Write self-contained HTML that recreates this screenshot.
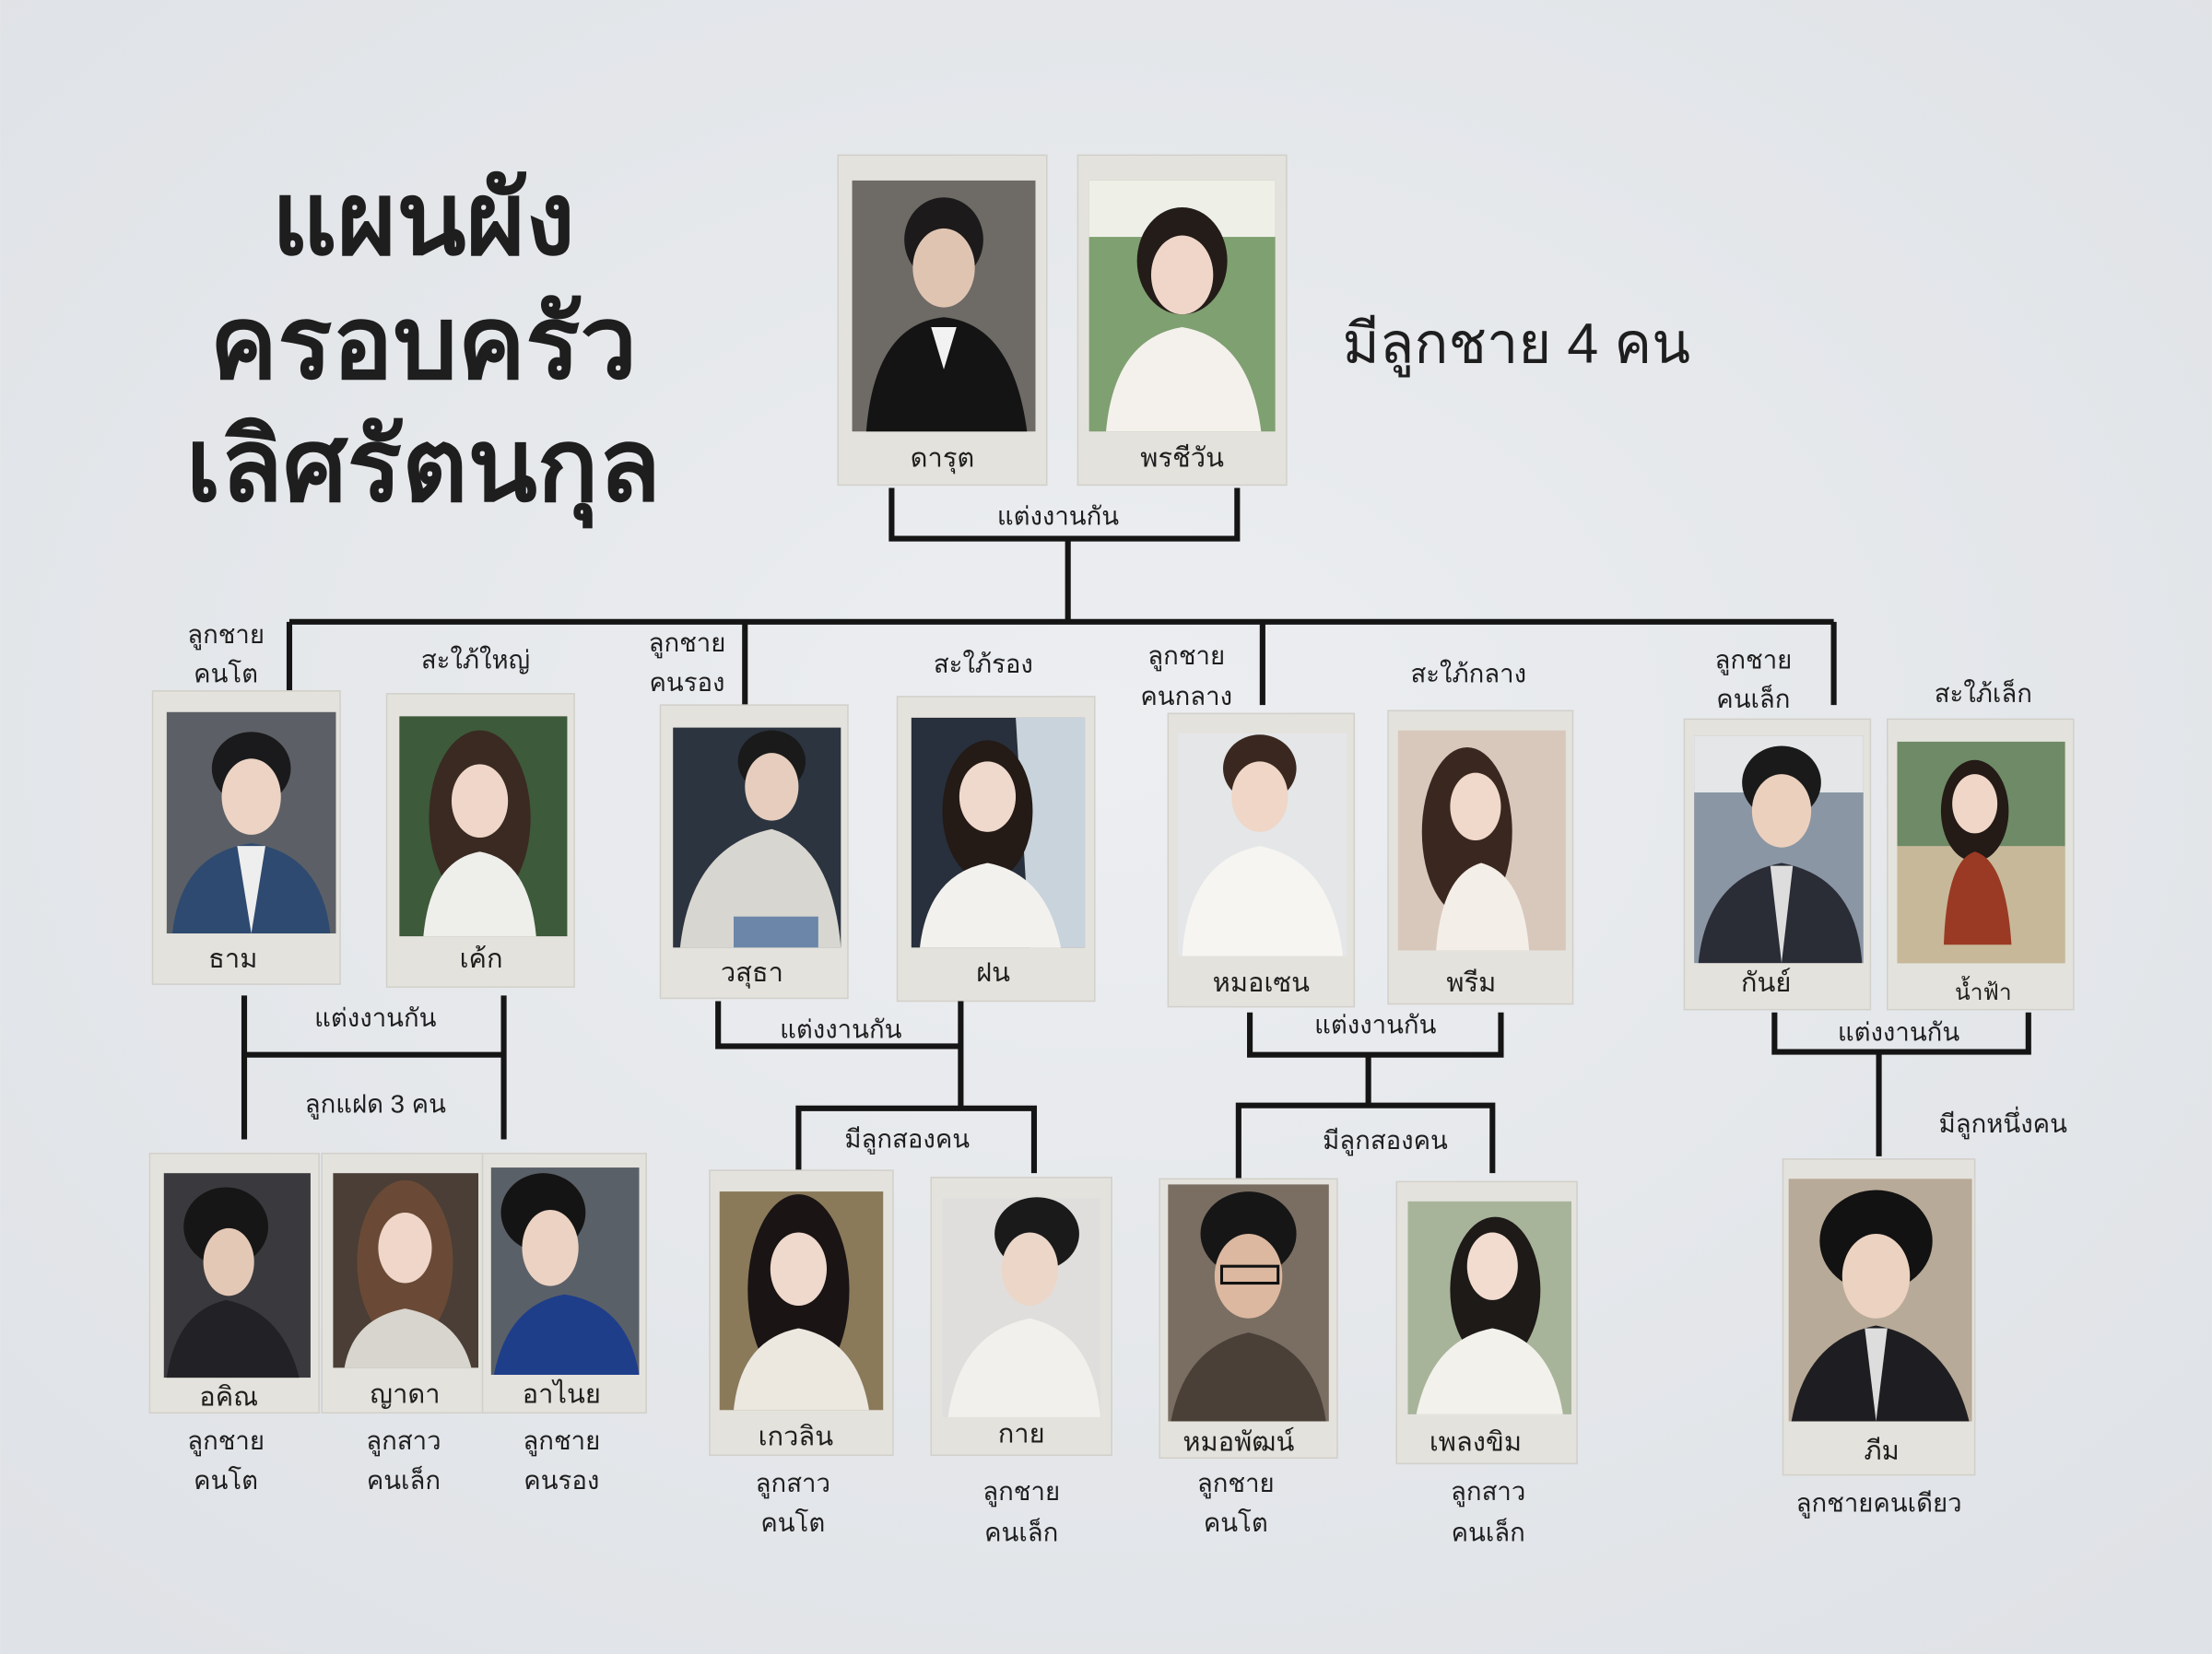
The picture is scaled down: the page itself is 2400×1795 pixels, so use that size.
<!DOCTYPE html>
<html><head><meta charset="utf-8"><style>
html,body{margin:0;padding:0;background:#e7eaed;}
svg{display:block}
text{font-family:"Liberation Sans","Noto Sans CJK SC",sans-serif;fill:#1e1e1e;text-anchor:middle}
.l{font-size:19px}
.s{font-size:18px}
.t{font-size:72px;font-weight:bold}
.fr{fill:#e4e2dc;stroke:#d2d0ca;stroke-width:1}
.ln{stroke:#151515;stroke-width:4;fill:none}
</style></head><body>
<svg width="2400" height="1795" viewBox="0 0 1568 1173" xmlns="http://www.w3.org/2000/svg">
<defs>
<radialGradient id="bg" cx="50%" cy="45%" r="70%"><stop offset="0" stop-color="#eceef1"/><stop offset="1" stop-color="#dfe2e6"/></radialGradient>
</defs>
<rect width="1568" height="1173" fill="url(#bg)"/>

<text class="t" x="300" y="180">แผนผัง</text>
<text class="t" x="300" y="268">ครอบครัว</text>
<text class="t" x="300" y="355">เลิศรัตนกุล</text>
<text x="1075" y="257" style="font-size:40px">มีลูกชาย 4 คน</text>

<!-- top frames -->
<rect class="fr" x="594" y="110" width="148" height="234"/>
<rect x="604" y="128" width="130" height="178" fill="#6e6a66"/>
<ellipse cx="669" cy="170" rx="28" ry="30" fill="#1c1a1a"/><ellipse cx="669" cy="190" rx="22" ry="28" fill="#e0c4b2"/>
<path d="M614 306 Q620 230 669 225 Q718 230 728 306Z" fill="#141414"/><path d="M660 232 L669 262 L678 232Z" fill="#f2f2f2"/>
<text class="l" x="668" y="331">ดารุต</text>
<rect class="fr" x="764" y="110" width="148" height="234"/>
<rect x="772" y="128" width="132" height="178" fill="#7fa070"/><rect x="772" y="128" width="132" height="40" fill="#eef0e8"/>
<ellipse cx="838" cy="185" rx="32" ry="38" fill="#231c18"/><ellipse cx="838" cy="195" rx="22" ry="28" fill="#efd6c8"/>
<path d="M784 306 Q790 240 838 232 Q886 240 894 306Z" fill="#f4f1ec"/>
<text class="l" x="838" y="331">พรชีวัน</text>

<path class="ln" d="M632 346 V382 H877 V346"/>
<text class="s" x="750" y="372">แต่งงานกัน</text>
<path class="ln" d="M757 382 V441"/>
<path class="ln" d="M205 441 H1300 M205 441 V490 M528 441 V500 M895 441 V500 M1300 441 V500"/>

<!-- upper labels -->
<g class="s">
<text class="s" x="160" y="456">ลูกชาย</text><text class="s" x="160" y="484">คนโต</text>
<text class="s" x="337" y="474">สะใภ้ใหญ่</text>
<text class="s" x="487" y="462">ลูกชาย</text><text class="s" x="487" y="490">คนรอง</text>
<text class="s" x="697" y="477">สะใภ้รอง</text>
<text class="s" x="841" y="471">ลูกชาย</text><text class="s" x="841" y="500">คนกลาง</text>
<text class="s" x="1041" y="484">สะใภ้กลาง</text>
<text class="s" x="1243" y="474">ลูกชาย</text><text class="s" x="1243" y="502">คนเล็ก</text>
<text class="s" x="1406" y="498">สะใภ้เล็ก</text>
</g>

<!-- gen 2 -->
<rect class="fr" x="108" y="490" width="133" height="208"/><rect x="118" y="505" width="120" height="157" fill="#5c6066"/>
<ellipse cx="178" cy="545" rx="28" ry="26" fill="#1a1a1c"/><ellipse cx="178" cy="565" rx="21" ry="27" fill="#ecd3c4"/><path d="M122 662 Q128 605 178 598 Q228 605 234 662Z" fill="#2f4a70"/><path d="M168 600 L178 662 L188 600Z" fill="#eeeeee"/>
<text class="l" x="165" y="686">ธาม</text>
<rect class="fr" x="274" y="492" width="133" height="208"/><rect x="283" y="508" width="119" height="156" fill="#3d5a3a"/>
<ellipse cx="340" cy="580" rx="36" ry="62" fill="#3a2a22"/><ellipse cx="340" cy="568" rx="20" ry="26" fill="#efd6c8"/><path d="M300 664 Q305 610 340 604 Q375 610 380 664Z" fill="#eeeeea"/>
<text class="l" x="341" y="686">เค้ก</text>

<rect class="fr" x="468" y="500" width="133" height="208"/><rect x="477" y="516" width="119" height="156" fill="#2c3440"/>
<ellipse cx="547" cy="540" rx="24" ry="22" fill="#1a1a1a"/><ellipse cx="547" cy="558" rx="19" ry="24" fill="#e6cdbd"/><path d="M482 672 Q490 600 547 588 Q590 600 596 672Z" fill="#d8d6d0"/><rect x="520" y="650" width="60" height="22" fill="#6b86a8"/>
<text class="l" x="533" y="696">วสุธา</text>
<rect class="fr" x="636" y="494" width="140" height="216"/><rect x="646" y="509" width="123" height="163" fill="#27303c"/><path d="M720 509 L769 509 L769 672 L730 672Z" fill="#c9d3dc"/>
<ellipse cx="700" cy="575" rx="32" ry="50" fill="#241a16"/><ellipse cx="700" cy="565" rx="20" ry="25" fill="#efd8cc"/><path d="M652 672 Q658 620 700 612 Q742 620 752 672Z" fill="#f2f1ee"/>
<text class="l" x="704" y="696">ฝน</text>

<rect class="fr" x="828" y="506" width="132" height="208"/><rect x="835" y="520" width="120" height="158" fill="#e4e6e8"/>
<ellipse cx="893" cy="545" rx="26" ry="24" fill="#3a2820"/><ellipse cx="893" cy="565" rx="20" ry="25" fill="#efd6c6"/><path d="M838 678 Q842 610 893 600 Q944 610 952 678Z" fill="#f6f5f2"/>
<text class="l" x="894" y="703">หมอเซน</text>
<rect class="fr" x="984" y="504" width="131" height="208"/><rect x="991" y="518" width="119" height="156" fill="#d8c8bc"/>
<ellipse cx="1040" cy="590" rx="32" ry="60" fill="#3a2820"/><ellipse cx="1046" cy="572" rx="18" ry="24" fill="#f0d8ca"/><path d="M1018 674 Q1022 620 1050 612 Q1080 620 1084 674Z" fill="#f4eee8"/>
<text class="l" x="1043" y="703">พรีม</text>

<rect class="fr" x="1194" y="510" width="132" height="206"/><rect x="1201" y="522" width="120" height="161" fill="#8a96a4"/><rect x="1201" y="522" width="120" height="40" fill="#e4e6e8"/>
<ellipse cx="1263" cy="555" rx="28" ry="26" fill="#1a1a1a"/><ellipse cx="1263" cy="575" rx="21" ry="26" fill="#ecd0be"/><path d="M1204 683 Q1210 622 1263 612 Q1316 622 1320 683Z" fill="#2a2c36"/><path d="M1255 614 L1263 683 L1271 614Z" fill="#dddddd"/>
<text class="l" x="1252" y="703">กันย์</text>
<rect class="fr" x="1338" y="510" width="132" height="206"/><rect x="1345" y="526" width="119" height="157" fill="#6e8a66"/><rect x="1345" y="600" width="119" height="83" fill="#c8b89a"/>
<ellipse cx="1400" cy="575" rx="24" ry="36" fill="#241a16"/><ellipse cx="1400" cy="570" rx="16" ry="21" fill="#efd6c6"/><path d="M1378 670 Q1380 610 1400 604 Q1422 610 1426 670Z" fill="#9a3a24"/>
<text class="s" x="1406" y="709" style="font-size:16px">น้ำฟ้า</text>

<!-- brackets -->
<path class="ln" d="M173 706 V808 M357 706 V808 M173 748 H357"/>
<text class="s" x="266" y="728">แต่งงานกัน</text>
<text class="s" x="266" y="789">ลูกแฝด 3 คน</text>
<path class="ln" d="M509 710 V742 H681 M681 710 V786 M566 835 V786 H733 V832"/>
<text class="s" x="596" y="736">แต่งงานกัน</text>
<text class="s" x="643" y="814">มีลูกสองคน</text>
<path class="ln" d="M886 718 V748 H1064 V718 M970 748 V784 M878 836 V784 H1058 V832"/>
<text class="s" x="975" y="733">แต่งงานกัน</text>
<text class="s" x="982" y="815">มีลูกสองคน</text>
<path class="ln" d="M1258 718 V746 H1438 V718 M1332 746 V820"/>
<text class="s" x="1346" y="738">แต่งงานกัน</text>
<text class="s" x="1420" y="803">มีลูกหนึ่งคน</text>

<!-- children -->
<rect class="fr" x="106" y="818" width="120" height="184"/><rect x="116" y="832" width="104" height="145" fill="#3a3a3e"/>
<ellipse cx="160" cy="870" rx="30" ry="28" fill="#161616"/><ellipse cx="162" cy="895" rx="18" ry="24" fill="#e4c8b6"/><path d="M118 977 Q125 930 160 922 Q200 930 212 977Z" fill="#222226"/>
<text class="l" x="162" y="997">อคิณ</text>
<rect class="fr" x="228" y="818" width="114" height="184"/><rect x="236" y="832" width="103" height="138" fill="#4a3e36"/>
<ellipse cx="287" cy="895" rx="34" ry="58" fill="#6a4a36"/><ellipse cx="287" cy="885" rx="19" ry="25" fill="#efd6c8"/><path d="M244 970 Q250 935 287 928 Q325 935 334 970Z" fill="#d8d4ce"/>
<text class="l" x="287" y="995">ญาดา</text>
<rect class="fr" x="342" y="818" width="116" height="184"/><rect x="348" y="828" width="105" height="147" fill="#5a6068"/>
<ellipse cx="385" cy="860" rx="30" ry="28" fill="#141414"/><ellipse cx="390" cy="885" rx="20" ry="27" fill="#ecd2c2"/><path d="M350 975 Q360 925 400 918 Q445 925 453 975Z" fill="#1e3e8a"/>
<text class="l" x="398" y="995">อาไนย</text>

<rect class="fr" x="503" y="830" width="130" height="202"/><rect x="510" y="845" width="116" height="155" fill="#8a7a5a"/>
<ellipse cx="566" cy="915" rx="36" ry="68" fill="#1a1414"/><ellipse cx="566" cy="900" rx="20" ry="26" fill="#efd8cc"/><path d="M520 1000 Q525 950 566 942 Q608 950 616 1000Z" fill="#ece8e0"/>
<text class="l" x="564" y="1025">เกวลิน</text>
<rect class="fr" x="660" y="835" width="128" height="197"/><rect x="668" y="850" width="112" height="155" fill="#e0dedc"/>
<ellipse cx="735" cy="875" rx="30" ry="26" fill="#1a1a1a"/><ellipse cx="730" cy="900" rx="20" ry="26" fill="#ecd6c8"/><path d="M672 1005 Q680 945 730 935 Q775 945 780 1005Z" fill="#f2f0ec"/>
<text class="l" x="724" y="1023">กาย</text>

<rect class="fr" x="822" y="836" width="126" height="198"/><rect x="828" y="840" width="114" height="168" fill="#7a6e62"/>
<ellipse cx="885" cy="875" rx="34" ry="30" fill="#161616"/><ellipse cx="885" cy="905" rx="24" ry="30" fill="#dcb8a0"/><rect x="866" y="898" width="40" height="12" fill="none" stroke="#111" stroke-width="2"/><path d="M830 1008 Q840 955 885 945 Q932 955 940 1008Z" fill="#4a4038"/>
<text class="l" x="878" y="1029">หมอพัฒน์</text>
<rect class="fr" x="990" y="838" width="128" height="200"/><rect x="998" y="852" width="116" height="151" fill="#a8b49a"/>
<ellipse cx="1060" cy="915" rx="32" ry="52" fill="#1e1a18"/><ellipse cx="1058" cy="898" rx="18" ry="24" fill="#f2dcd0"/><path d="M1004 1003 Q1015 950 1058 942 Q1100 950 1108 1003Z" fill="#f2f1ec"/>
<text class="l" x="1046" y="1029">เพลงขิม</text>

<rect class="fr" x="1264" y="822" width="136" height="224"/><rect x="1268" y="836" width="130" height="172" fill="#b8aa98"/>
<ellipse cx="1330" cy="880" rx="40" ry="36" fill="#121212"/><ellipse cx="1330" cy="905" rx="24" ry="30" fill="#ecd2c0"/><path d="M1270 1008 Q1280 950 1330 940 Q1382 950 1396 1008Z" fill="#1e1e22"/><path d="M1322 942 L1330 1008 L1338 942Z" fill="#dddddd"/>
<text class="l" x="1334" y="1035">ภีม</text>

<!-- bottom labels -->
<text class="s" x="160" y="1028">ลูกชาย</text><text class="s" x="160" y="1056">คนโต</text>
<text class="s" x="286" y="1028">ลูกสาว</text><text class="s" x="286" y="1056">คนเล็ก</text>
<text class="s" x="398" y="1028">ลูกชาย</text><text class="s" x="398" y="1056">คนรอง</text>
<text class="s" x="562" y="1058">ลูกสาว</text><text class="s" x="562" y="1086">คนโต</text>
<text class="s" x="724" y="1064">ลูกชาย</text><text class="s" x="724" y="1093">คนเล็ก</text>
<text class="s" x="876" y="1058">ลูกชาย</text><text class="s" x="876" y="1086">คนโต</text>
<text class="s" x="1055" y="1064">ลูกสาว</text><text class="s" x="1055" y="1093">คนเล็ก</text>
<text class="s" x="1332" y="1072">ลูกชายคนเดียว</text>
</svg>
</body></html>
